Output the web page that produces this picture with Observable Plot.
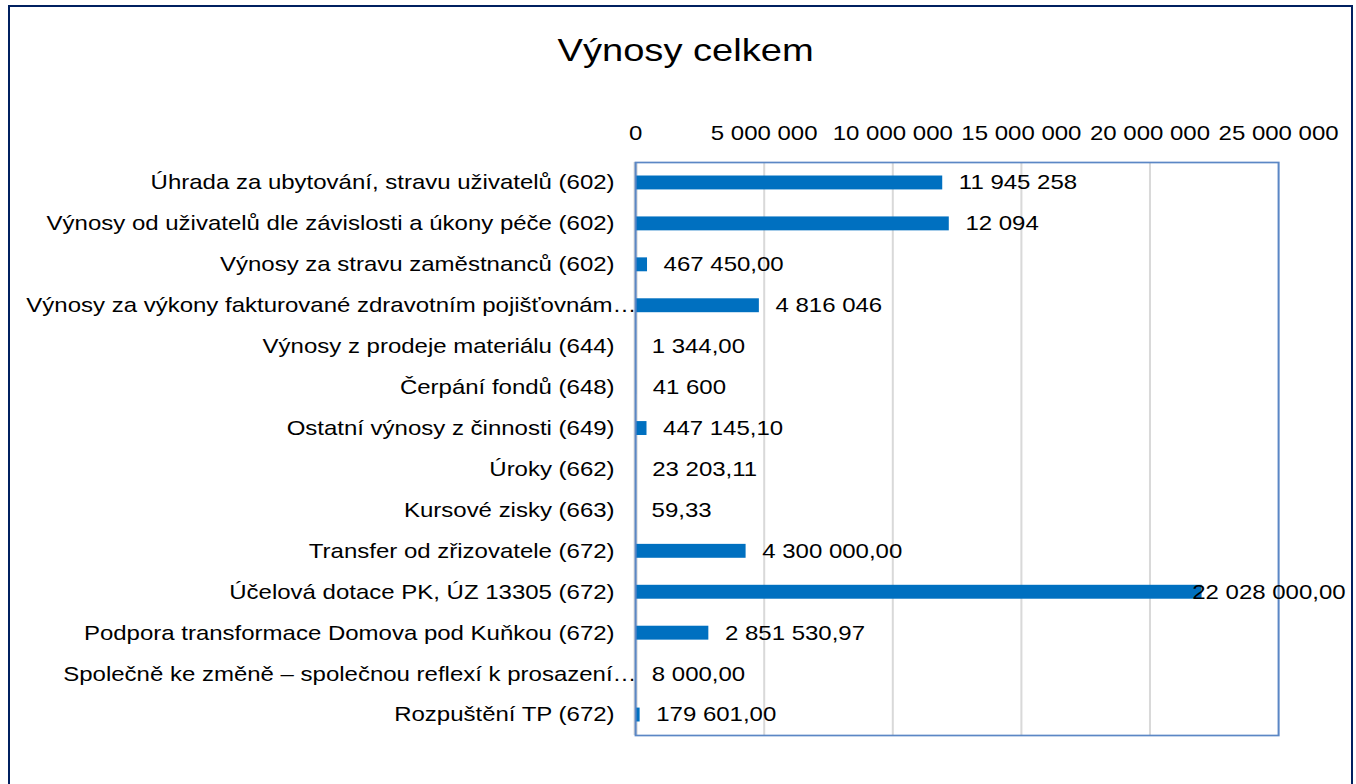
<!DOCTYPE html>
<html>
<head>
<meta charset="utf-8">
<script src="https://cdn.jsdelivr.net/npm/d3@7"></script>
<script src="https://cdn.jsdelivr.net/npm/@observablehq/plot@0.6"></script>
<style>
  html, body { margin: 0; padding: 0; background: #fff; overflow: hidden; }
  body { width: 1356px; height: 784px; position: relative; font-family: "Liberation Sans", Arial, sans-serif; }
  #frame { position: absolute; left: 8px; top: 5px; width: 1345px; height: 820px; border: 2px solid #002060; box-sizing: border-box; pointer-events: none; }
  #title { height: 100px; line-height: 100px; text-align: center; font-size: 32px; color: #000; }
  #title span { display: inline-block; transform: scaleX(1.19); margin-left: 16px; }
  #chart { width: 1356px; height: 684px; overflow: hidden; }
  #chart svg { display: block; transform: scaleX(1.2); transform-origin: 0 0; }
</style>
</head>
<body>
<div id="frame"></div>
<div id="title"><span>Výnosy celkem</span></div>
<div id="chart"></div>
<script>
const categories = [
  "Úhrada za ubytování, stravu uživatelů (602)",
  "Výnosy od uživatelů dle závislosti a úkony péče (602)",
  "Výnosy za stravu zaměstnanců (602)",
  "Výnosy za výkony fakturované zdravotním pojišťovnám…",
  "Výnosy z prodeje materiálu (644)",
  "Čerpání fondů (648)",
  "Ostatní výnosy z činnosti (649)",
  "Úroky (662)",
  "Kursové zisky (663)",
  "Transfer od zřizovatele (672)",
  "Účelová dotace PK, ÚZ 13305 (672)",
  "Podpora transformace Domova pod Kuňkou (672)",
  "Společně ke změně – společnou reflexí k prosazení…",
  "Rozpuštění TP (672)"
];
const values = [
  11945258, 12200000, 467450, 4816046, 1344, 41600, 447145.10,
  23203.11, 59.33, 4300000, 22028000, 2851530.97, 8000, 179601
];
const valueLabels = [
  "11 945 258", "12 094", "467 450,00", "4 816 046", "1 344,00", "41 600",
  "447 145,10", "23 203,11", "59,33", "4 300 000,00", "22 028 000,00",
  "2 851 530,97", "8 000,00", "179 601,00"
];
const xTicks = [0, 5000000, 10000000, 15000000, 20000000, 25000000];
const xTickLabels = ["0", "5 000 000", "10 000 000", "15 000 000", "20 000 000", "25 000 000"];

const data = categories.map((c, i) => ({category: c, value: values[i], label: valueLabels[i]}));
const xMax = 25000000;
const overflow = d => d.value > 20000000;
const truncated = c => c.endsWith("…");
const S = 1.2; // horizontal stretch of the reference rendering

const chart = Plot.plot({
  width: 1356 / S,
  height: 684,
  marginLeft: 635 / S,
  marginRight: 78 / S,
  marginTop: 62,
  marginBottom: 49,
  style: {fontFamily: '"Liberation Sans", Arial, sans-serif', fontSize: "20px", color: "#000", background: "transparent", overflow: "visible"},
  x: {domain: [0, xMax], axis: null, label: null},
  y: {domain: categories, paddingInner: 0.66, paddingOuter: 0.33, round: false, axis: null, label: null},
  marks: [
    Plot.gridX([5000000, 10000000, 15000000, 20000000], {stroke: "#d9d9d9", strokeOpacity: 1, strokeWidth: 1.7}),
    Plot.axisX(xTicks, {
      anchor: "top", tickSize: 0, tickPadding: 23, fontSize: 20, fill: "#000", label: null,
      tickFormat: d => xTickLabels[xTicks.indexOf(d)]
    }),
    Plot.axisY(categories.filter(c => !truncated(c)), {anchor: "left", tickSize: 0, tickPadding: 21 / S, fontSize: 20, fill: "#000", label: null}),
    Plot.axisY(categories.filter(truncated), {anchor: "left", tickSize: 0, tickPadding: -1 / S, fontSize: 20, fill: "#000", label: null}),
    Plot.ruleX([0], {stroke: "#d9d9d9", strokeWidth: 3.4}),
    Plot.barX(data, {y: "category", x: "value", fill: "#0070c0"}),
    Plot.frame({stroke: "#5b87c5", strokeWidth: 1.7}),
    Plot.text(data.filter(d => !overflow(d)), {
      y: "category", x: "value", text: "label", textAnchor: "start", dx: 16 / S, fontSize: 20, fill: "#000"
    }),
    Plot.text(data.filter(overflow), {
      y: "category", x: () => xMax, text: "label", textAnchor: "end", dx: 67 / S, fontSize: 20, fill: "#000"
    })
  ]
});
document.getElementById("chart").appendChild(chart);
</script>
</body>
</html>
